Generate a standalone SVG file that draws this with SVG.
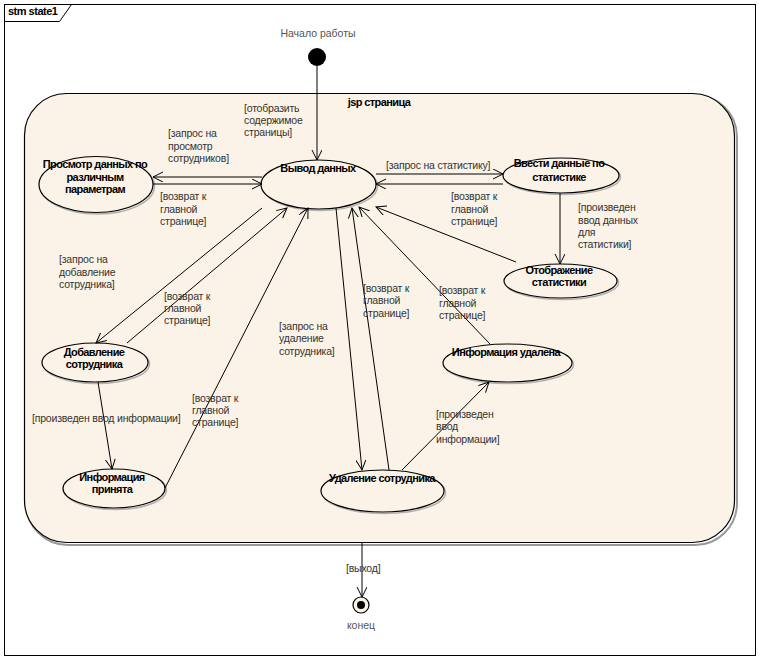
<svg xmlns="http://www.w3.org/2000/svg" width="759" height="659" viewBox="0 0 759 659">
<style>
.frame{fill:#fff;stroke:#000;stroke-width:1}
.st{fill:#FBF3E7;stroke:#000;stroke-width:1.2}
.sh{fill:none;stroke:#b0b0b0;stroke-width:1.5}
.ln{fill:none;stroke:#000;stroke-width:1}
.nt{font-family:"Liberation Sans",Arial,sans-serif;font-size:11px;font-weight:bold;fill:#000;text-anchor:middle;letter-spacing:-0.6px}
.lb{font-family:"Liberation Sans",Arial,sans-serif;font-size:10.5px;fill:#333;letter-spacing:-0.2px}
.gr{font-family:"Liberation Sans",Arial,sans-serif;font-size:10.5px;fill:#555;text-anchor:middle}
</style>
<defs>
<marker id="arr" markerUnits="userSpaceOnUse" markerWidth="14" markerHeight="12" refX="10" refY="5" orient="auto">
<path d="M0,0 L10,5 L0,10" fill="none" stroke="#000" stroke-width="1"/>
</marker>
</defs>
<rect class="frame" x="4.5" y="4.5" width="751" height="651"/>
<g id="header">
<path d="M4.5,21.5 L59.5,21.5 L71.5,4.5" fill="none" stroke="#000"/>
<text x="8" y="15" font-family="Liberation Sans,Arial,sans-serif" font-size="11" font-weight="bold" letter-spacing="-0.5">stm state1</text>
</g>
<g id="jsp">
<rect x="26" y="95" width="711" height="450" rx="42" ry="42" fill="none" stroke="#999" stroke-width="2"/>
<rect x="24.5" y="93.5" width="710" height="449" rx="42" ry="42" class="st"/>
<text class="nt" x="379" y="106">jsp страница</text>
</g>
<g id="start">
<text class="gr" x="318" y="37">Начало работы</text>
<circle cx="317" cy="57" r="9" fill="#000"/>
</g>
<g id="end">
<circle cx="361" cy="605" r="8" fill="#FBF3E7" stroke="#000" stroke-width="1.2"/>
<circle cx="361" cy="605" r="4" fill="#000"/>
<text class="gr" x="361" y="629">конец</text>
</g>
<g id="vyvod">
<ellipse cx="320" cy="186" rx="57.5" ry="24.5" class="sh"/>
<ellipse cx="318.5" cy="184.5" rx="57.5" ry="24.5" class="st"/>
<text class="nt" x="318" y="172">Вывод данных</text>
</g>
<g id="prosmotr">
<ellipse cx="97.5" cy="186" rx="57" ry="28" class="sh"/>
<ellipse cx="96" cy="184.5" rx="57" ry="28" class="st"/>
<text class="nt" x="95" y="168">Просмотр данных по</text>
<text class="nt" x="95" y="181">различным</text>
<text class="nt" x="95" y="193">параметрам</text>
</g>
<g id="vvesti">
<ellipse cx="562.5" cy="177" rx="58" ry="17.5" class="sh"/>
<ellipse cx="561" cy="175.5" rx="58" ry="17.5" class="st"/>
<text class="nt" x="559" y="167">Ввести данные по</text>
<text class="nt" x="559" y="181">статистике</text>
</g>
<g id="otobrazhenie">
<ellipse cx="562" cy="282.5" rx="56.5" ry="17" class="sh"/>
<ellipse cx="560.5" cy="281" rx="56.5" ry="17" class="st"/>
<text class="nt" x="559" y="274">Отображение</text>
<text class="nt" x="559" y="286">статистики</text>
</g>
<g id="dobavlenie">
<ellipse cx="96.5" cy="364" rx="53" ry="19.5" class="sh"/>
<ellipse cx="95" cy="362.5" rx="53" ry="19.5" class="st"/>
<text class="nt" x="94" y="356">Добавление</text>
<text class="nt" x="94" y="368">сотрудника</text>
</g>
<g id="prinyata">
<ellipse cx="115.5" cy="490" rx="51" ry="19.5" class="sh"/>
<ellipse cx="114" cy="488.5" rx="51" ry="19.5" class="st"/>
<text class="nt" x="112" y="481">Информация</text>
<text class="nt" x="112" y="493">принята</text>
</g>
<g id="udalenie">
<ellipse cx="384" cy="492.5" rx="61.5" ry="21" class="sh"/>
<ellipse cx="382.5" cy="491" rx="61.5" ry="21" class="st"/>
<text class="nt" x="382" y="482">Удаление сотрудника</text>
</g>
<g id="udalena">
<ellipse cx="509" cy="364.5" rx="64.5" ry="19" class="sh"/>
<ellipse cx="507.5" cy="363" rx="64.5" ry="19" class="st"/>
<text class="nt" x="506" y="356">Информация удалена</text>
</g>
<g id="connectors">
<line class="ln" x1="317" y1="66" x2="317" y2="160" marker-end="url(#arr)"/>
<line class="ln" x1="262" y1="177" x2="153" y2="177" marker-end="url(#arr)"/>
<line class="ln" x1="153" y1="184" x2="262" y2="184" marker-end="url(#arr)"/>
<line class="ln" x1="376" y1="174" x2="503" y2="174" marker-end="url(#arr)"/>
<line class="ln" x1="503" y1="184" x2="376" y2="184" marker-end="url(#arr)"/>
<line class="ln" x1="560" y1="193" x2="560" y2="264" marker-end="url(#arr)"/>
<line class="ln" x1="516" y1="262" x2="376" y2="207" marker-end="url(#arr)"/>
<line class="ln" x1="262" y1="208" x2="96" y2="343" marker-end="url(#arr)"/>
<line class="ln" x1="127" y1="343" x2="287" y2="208" marker-end="url(#arr)"/>
<line class="ln" x1="98" y1="382" x2="112" y2="469" marker-end="url(#arr)"/>
<line class="ln" x1="165" y1="488" x2="308" y2="208" marker-end="url(#arr)"/>
<line class="ln" x1="336" y1="208" x2="362" y2="470" marker-end="url(#arr)"/>
<line class="ln" x1="389" y1="470" x2="352" y2="208" marker-end="url(#arr)"/>
<line class="ln" x1="490" y1="344" x2="359" y2="207" marker-end="url(#arr)"/>
<line class="ln" x1="402" y1="470" x2="489" y2="382" marker-end="url(#arr)"/>
<line class="ln" x1="362" y1="543" x2="362" y2="597" marker-end="url(#arr)"/>
</g>
<g id="labels">
<text class="lb" x="244" y="112">[отобразить</text>
<text class="lb" x="244" y="124">содержимое</text>
<text class="lb" x="244" y="136">страницы]</text>
<text class="lb" x="168" y="137">[запрос на</text>
<text class="lb" x="168" y="150">просмотр</text>
<text class="lb" x="168" y="162">сотрудников]</text>
<text class="lb" x="160" y="200">[возврат к</text>
<text class="lb" x="160" y="213">главной</text>
<text class="lb" x="160" y="225">странице]</text>
<text class="lb" x="386" y="169">[запрос на статистику]</text>
<text class="lb" x="451" y="200">[возврат к</text>
<text class="lb" x="451" y="213">главной</text>
<text class="lb" x="451" y="225">странице]</text>
<text class="lb" x="578" y="211">[произведен</text>
<text class="lb" x="578" y="224">ввод данных</text>
<text class="lb" x="578" y="236">для</text>
<text class="lb" x="578" y="248">статистики]</text>
<text class="lb" x="59" y="263">[запрос на</text>
<text class="lb" x="59" y="276">добавление</text>
<text class="lb" x="59" y="288">сотрудника]</text>
<text class="lb" x="164" y="300">[возврат к</text>
<text class="lb" x="164" y="312">главной</text>
<text class="lb" x="164" y="324">странице]</text>
<text class="lb" x="279" y="330">[запрос на</text>
<text class="lb" x="279" y="342">удаление</text>
<text class="lb" x="279" y="355">сотрудника]</text>
<text class="lb" x="363" y="292">[возврат к</text>
<text class="lb" x="363" y="304">главной</text>
<text class="lb" x="363" y="317">странице]</text>
<text class="lb" x="439" y="294">[возврат к</text>
<text class="lb" x="439" y="307">главной</text>
<text class="lb" x="439" y="319">странице]</text>
<text class="lb" x="32" y="422">[произведен ввод информации]</text>
<text class="lb" x="192" y="402">[возврат к</text>
<text class="lb" x="192" y="414">главной</text>
<text class="lb" x="192" y="426">странице]</text>
<text class="lb" x="436" y="418">[произведен</text>
<text class="lb" x="436" y="430">ввод</text>
<text class="lb" x="436" y="443">информации]</text>
<text class="lb" x="346" y="572">[выход]</text>
</g>
</svg>
